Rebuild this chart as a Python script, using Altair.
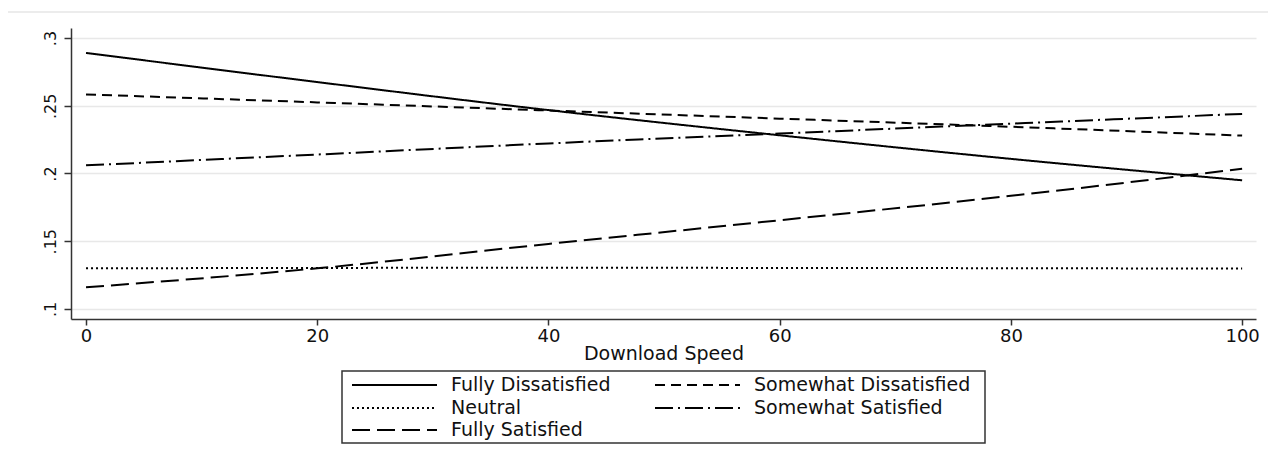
import altair as alt
import pandas as pd

# ---- data ----
speed = [0, 20, 40, 60, 80, 100]
fully_dissatisfied = [0.289, 0.2675, 0.2468, 0.2282, 0.2108, 0.195]
somewhat_dissatisfied = [0.2584, 0.2525, 0.2465, 0.2405, 0.2345, 0.228]
neutral = [0.130, 0.1303, 0.1304, 0.1303, 0.1301, 0.1298]
somewhat_satisfied = [0.206, 0.214, 0.2222, 0.2295, 0.2368, 0.244]
fully_satisfied = [0.116, 0.130, 0.148, 0.1655, 0.1835, 0.2035]

categories = ["Fully Dissatisfied", "Somewhat Dissatisfied", "Neutral",
              "Somewhat Satisfied", "Fully Satisfied"]
y_ticks = [0.1, 0.15, 0.2, 0.25, 0.3]
x_ticks = [0, 20, 40, 60, 80, 100]
x_title = "Download Speed"

series = [fully_dissatisfied, somewhat_dissatisfied, neutral,
          somewhat_satisfied, fully_satisfied]
rows = []
for name, vals in zip(categories, series):
    for s, v in zip(speed, vals):
        rows.append({"speed": s, "prob": v, "series": name})
df = pd.DataFrame(rows)
one = pd.DataFrame({"k": [0]})  # single row for decoration marks

# ---- styles ----
FONT = "DejaVu Sans"
dashes = [[1, 0], [10, 6], [2, 3], [18, 5, 2, 5], [18, 7]]
W, H = 1185, 291

frame = alt.Chart(one).mark_rect(fill=None, stroke="#e6e6e6", strokeWidth=1.5).encode(
    x=alt.value(-64), x2=alt.value(1204), y=alt.value(-16), y2=alt.value(440)
)

lines = alt.Chart(df).mark_line(color="black", strokeWidth=2, interpolate="monotone").encode(
    x=alt.X("speed:Q", scale=alt.Scale(domain=[-1.3, 101.2], nice=False, zero=False),
            axis=alt.Axis(values=x_ticks, grid=False, title=x_title, tickSize=6,
                          labelPadding=2, titlePadding=-1, titleFontWeight="normal",
                          titleFontSize=19, labelFontSize=18)),
    y=alt.Y("prob:Q", scale=alt.Scale(domain=[0.0926, 0.3074], nice=False, zero=False),
            axis=alt.Axis(values=y_ticks, grid=True, title=None, labelAngle=270,
                          labelAlign="center", labelBaseline="bottom", tickSize=7,
                          labelPadding=6, labelFontSize=16,
                          labelExpr="slice(format(datum.value, '.2~f'), 1)")),
    strokeDash=alt.StrokeDash("series:N", scale=alt.Scale(domain=categories, range=dashes),
                              legend=None),
    detail="series:N",
)

# ---- hand-built legend (2 columns, row-major) ----
box = alt.Chart(one).mark_rect(fill="white", stroke="#333", strokeWidth=1.5).encode(
    x=alt.value(271), x2=alt.value(914), y=alt.value(343), y2=alt.value(415)
)
leg_layers = [box]
col_x = [281, 584]
row_y = [357, 380, 402]
for i, name in enumerate(categories):
    r, c = i // 2, i % 2
    x0 = col_x[c]
    leg_layers.append(
        alt.Chart(one).mark_rule(color="black", strokeWidth=2, strokeDash=dashes[i]).encode(
            x=alt.value(x0), x2=alt.value(x0 + 85), y=alt.value(row_y[r])
        )
    )
    leg_layers.append(
        alt.Chart(one).mark_text(align="left", baseline="middle", fontSize=19, font=FONT,
                                 color="#111").encode(
            x=alt.value(x0 + 99), y=alt.value(row_y[r]), text=alt.value(name)
        )
    )

chart = alt.layer(frame, lines, *leg_layers).properties(
    width=W, height=H,
    padding={"left": 63, "top": 20, "right": 12, "bottom": 130},
    autosize=alt.AutoSizeParams(type="none"),
    background="white",
).configure_view(stroke=None).configure_axis(
    labelFont=FONT, titleFont=FONT, labelColor="#111", titleColor="#111",
    domainColor="#333", domainWidth=1.5, tickColor="#333", tickWidth=1.5,
    gridColor="#e8e8e8", gridWidth=1.5,
)

chart.save("out.html", embed_options={"renderer": "svg", "actions": False})
